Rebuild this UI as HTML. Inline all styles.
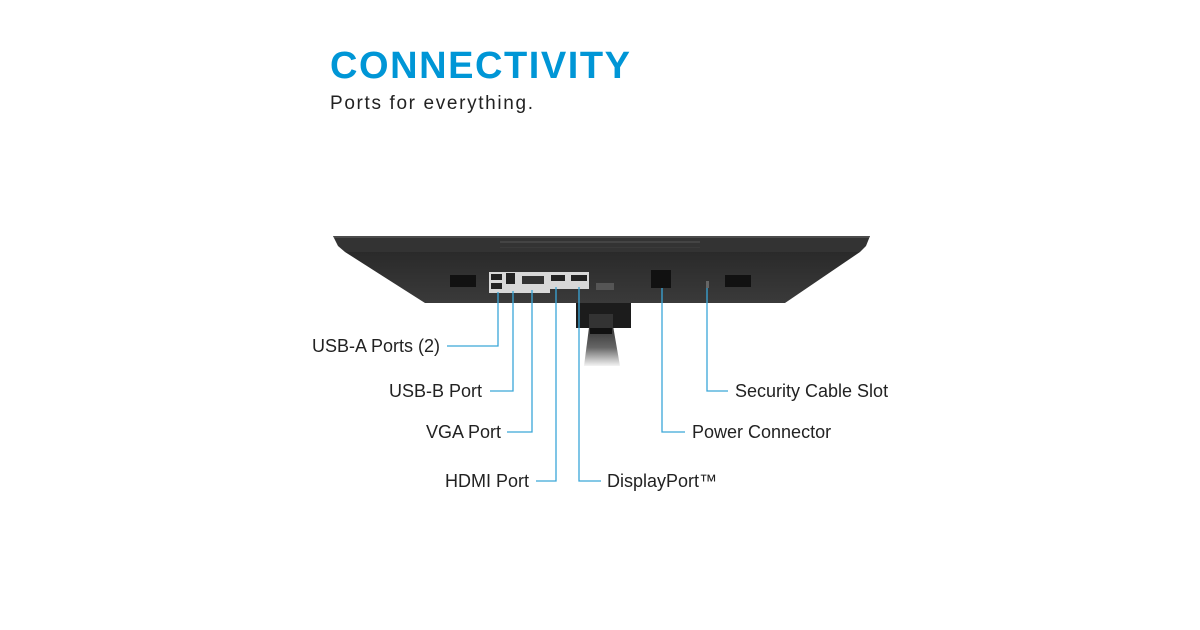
<!DOCTYPE html>
<html><head><meta charset="utf-8"><style>
html,body{margin:0;padding:0;background:#fff;width:1200px;height:630px;overflow:hidden}
svg{display:block}
text{font-family:"Liberation Sans",sans-serif}
</style></head><body>
<svg width="1200" height="630" viewBox="0 0 1200 630" xmlns="http://www.w3.org/2000/svg">
<defs>
<linearGradient id="arm" x1="0" y1="0" x2="0" y2="1"><stop offset="0" stop-color="#222"/><stop offset="0.6" stop-color="#666"/><stop offset="1" stop-color="#f4f4f4"/></linearGradient>
<linearGradient id="body" x1="0" y1="0" x2="0" y2="1"><stop offset="0" stop-color="#2a2a2a"/><stop offset="1" stop-color="#3a3a3a"/></linearGradient>
</defs>
<text x="330" y="78" font-size="38" font-weight="bold" fill="#0096d6" textLength="300" lengthAdjust="spacing">CONNECTIVITY</text>
<text x="330" y="109" font-size="19" fill="#222" textLength="203" lengthAdjust="spacing">Ports for everything.</text>

<path d="M590 320 L612 320 L620 366 L584 366 Z" fill="url(#arm)"/>
<rect x="590" y="318" width="22" height="16" fill="#111"/>
<path d="M345 252 L860 252 L785 303 L425 303 Z" fill="url(#body)"/>
<path d="M333 236 L870 236 L866 246 L860 252 L345 252 L338 246 Z" fill="#333"/>
<line x1="334" y1="237" x2="869" y2="237" stroke="#666" stroke-width="1"/>
<rect x="500" y="241" width="200" height="2" fill="#444"/>
<rect x="500" y="247" width="200" height="1" fill="#3a3a3a"/>
<g fill="#111"><rect x="450" y="275" width="26" height="12"/><rect x="725" y="275" width="26" height="12"/></g>
<path d="M489 272 L589 272 L589 289 L550 289 L550 293 L489 293 Z" fill="#d8d8d8"/>
<rect x="491" y="274" width="11" height="6" fill="#222"/><rect x="491" y="283" width="11" height="6" fill="#222"/>
<rect x="506" y="273" width="9" height="11" fill="#222"/>
<rect x="522" y="276" width="22" height="8" fill="#333"/>
<rect x="551" y="275" width="14" height="6" fill="#222"/>
<rect x="571" y="275" width="16" height="6" fill="#222"/>
<rect x="596" y="283" width="18" height="7" fill="#555"/>
<rect x="651" y="270" width="20" height="18" fill="#111"/>
<rect x="706" y="281" width="3" height="7" fill="#666"/>
<rect x="576" y="303" width="55" height="25" fill="#1c1c1c"/>
<rect x="589" y="314" width="24" height="14" fill="#333"/>

<g stroke="#3aa6d8" stroke-width="1.3" fill="none">
<path d="M498 292 V346 H447"/>
<path d="M513 291 V391 H490"/>
<path d="M532 290 V432 H507"/>
<path d="M556 287 V481 H536"/>
<path d="M579 287 V481 H601"/>
<path d="M662 288 V432 H685"/>
<path d="M707 288 V391 H728"/>
</g>
<g font-size="18" fill="#222">
<text x="440" y="352" text-anchor="end">USB-A Ports (2)</text>
<text x="482" y="397" text-anchor="end">USB-B Port</text>
<text x="501" y="438" text-anchor="end">VGA Port</text>
<text x="529" y="487" text-anchor="end">HDMI Port</text>
<text x="607" y="487">DisplayPort™</text>
<text x="692" y="438">Power Connector</text>
<text x="735" y="397">Security Cable Slot</text>
</g>
</svg>
</body></html>
